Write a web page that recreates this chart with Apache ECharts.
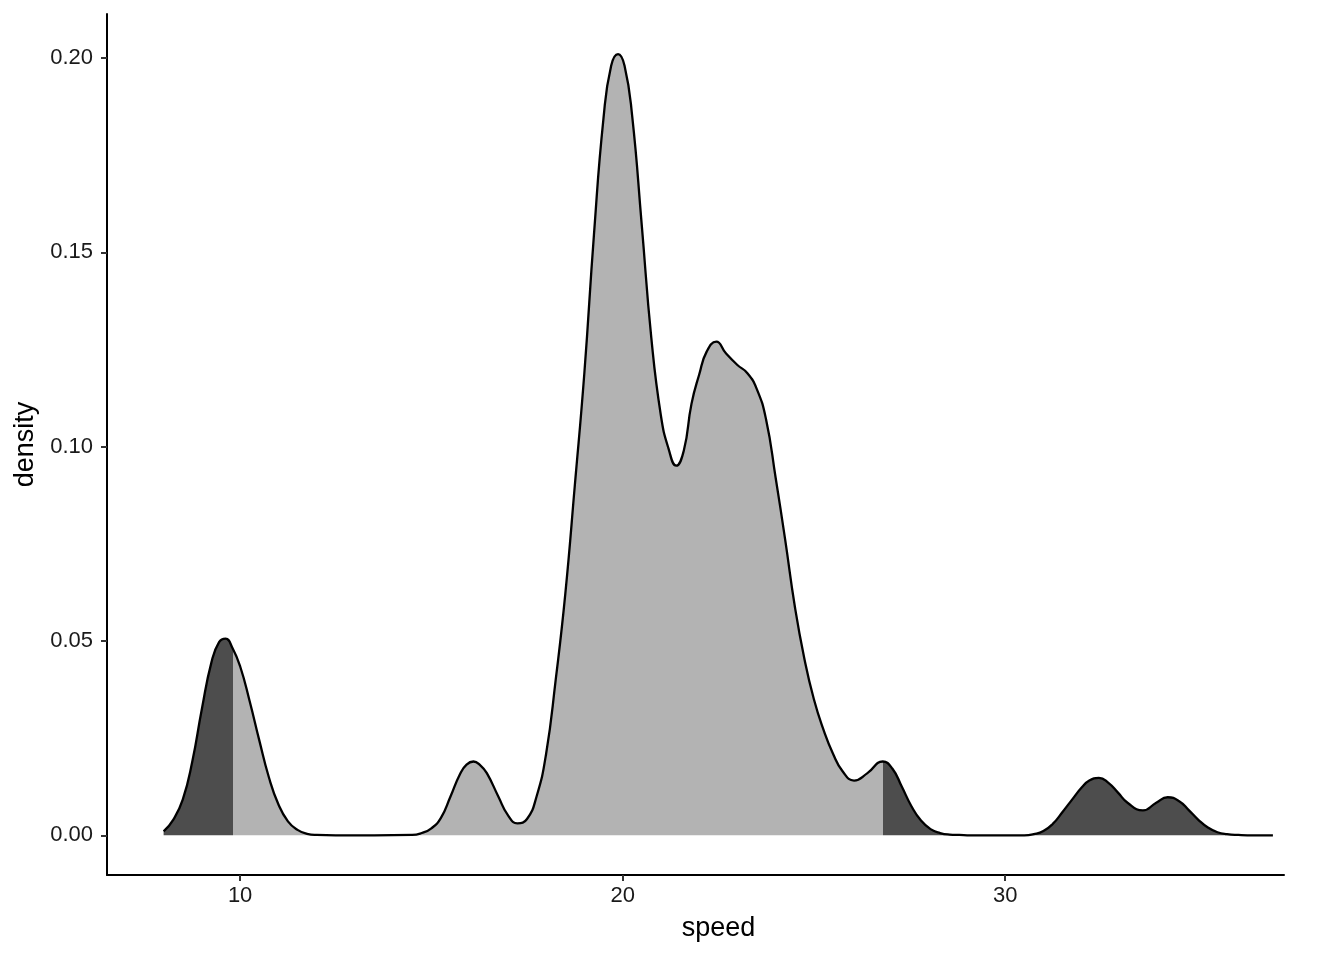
<!DOCTYPE html>
<html>
<head>
<meta charset="utf-8">
<title>speed density</title>
<script src="https://cdn.jsdelivr.net/npm/echarts@6/dist/echarts.min.js"></script>
<style>
  html, body { margin: 0; padding: 0; background: #fff; }
  #chart { width: 1344px; height: 960px; }
</style>
</head>
<body>
<div id="chart"></div>
<script>
// valores
const speed = [
  8.0, 8.25, 8.5, 8.75, 9.0, 9.25, 9.45, 9.62, 9.8, 10.0, 10.25, 10.5, 10.75, 11.0, 11.25, 11.5, 11.75, 12.0, 12.5,
  14.5, 14.75, 15.0, 15.25, 15.5, 15.75, 15.92, 16.1, 16.28, 16.45, 16.75, 17.0, 17.25, 17.5, 17.75,
  18.0, 18.25, 18.5, 18.75, 19.0, 19.25, 19.5, 19.7, 19.88, 20.05, 20.25, 20.5, 20.75, 21.0, 21.2, 21.4, 21.6, 21.8,
  22.0, 22.2, 22.45, 22.7, 23.0, 23.25, 23.5, 23.75, 24.0, 24.25, 24.5, 24.75, 25.0, 25.25, 25.5, 25.75,
  26.05, 26.4, 26.8, 27.05, 27.3, 27.55, 27.8, 28.05, 28.3, 28.55, 28.8, 29.1,
  30.5, 30.75, 31.0, 31.25, 31.5, 31.75, 32.0, 32.2, 32.45, 32.7, 32.95, 33.2, 33.6,
  33.95, 34.25, 34.55, 34.8, 35.05, 35.3, 35.55, 35.8, 36.1, 36.5, 37.0
];
const density = [
  0.0010, 0.0040, 0.0092, 0.0190, 0.0325, 0.0445, 0.0497, 0.0506, 0.0482, 0.0435, 0.0345, 0.0245, 0.0150, 0.0080, 0.0036, 0.0014, 0.0004, 0.0001, 0.0,
  0.0001, 0.0006, 0.0018, 0.0045, 0.0100, 0.0158, 0.0182, 0.0190, 0.0180, 0.0160, 0.0100, 0.0052, 0.0031, 0.0042, 0.0100,
  0.0210, 0.0400, 0.0620, 0.0900, 0.1190, 0.1545, 0.1845, 0.1980, 0.2010, 0.1980, 0.1850, 0.1570, 0.1280, 0.1080, 0.0995, 0.0951, 0.0990, 0.1110,
  0.1185, 0.1245, 0.1270, 0.1240, 0.1210, 0.1190, 0.1150, 0.1070, 0.0920, 0.0760, 0.0590, 0.0455, 0.0350, 0.0272, 0.0210, 0.0165,
  0.0141, 0.0160, 0.0190, 0.0172, 0.0125, 0.0075, 0.0038, 0.0016, 0.0006, 0.0002, 0.0001, 0.0,
  0.0, 0.0003, 0.0011, 0.0030, 0.0060, 0.0092, 0.0123, 0.0141, 0.0148, 0.0135, 0.0110, 0.0084, 0.0064,
  0.0084, 0.0098, 0.0088, 0.0065, 0.0040, 0.0020, 0.0008, 0.0003, 0.0001, 0.0, 0.0
];
const lowerCut = 9.82;
const upperCut = 26.81;
const xTicks = [10, 20, 30];
const yTicks = [0, 0.05, 0.1, 0.15, 0.2];

const FONT = "Liberation Sans, Arial, sans-serif";
const DARK = "#4d4d4d";
const LIGHT = "#b3b3b3";

const points = speed.map((s, i) => [s, density[i]]);

const chart = echarts.init(document.getElementById("chart"));

chart.setOption({
  animation: false,
  grid: { left: 107, right: 60, top: 14, bottom: 85 },
  visualMap: {
    show: false,
    type: "piecewise",
    seriesIndex: 0,
    dimension: 0,
    pieces: [
      { lt: lowerCut, color: DARK },
      { gte: lowerCut, lte: upperCut, color: LIGHT },
      { gt: upperCut, color: DARK },
    ],
  },
  xAxis: {
    type: "value",
    min: 6.52,
    max: 37.29,
    name: "speed",
    nameLocation: "middle",
    nameGap: 40,
    nameTextStyle: { fontFamily: FONT, fontSize: 27, color: "#000", padding: [0, 0, 0, 46] },
    axisLine: { show: true, onZero: false, lineStyle: { color: "#000", width: 2 } },
    axisTick: { show: true, length: 6, customValues: xTicks, lineStyle: { color: "#333", width: 2 } },
    axisLabel: { customValues: xTicks, fontFamily: FONT, fontSize: 22, color: "#1a1a1a", margin: 10 },
    splitLine: { show: false },
  },
  yAxis: {
    type: "value",
    min: -0.0102,
    max: 0.2113,
    name: "density",
    nameLocation: "middle",
    nameGap: 63,
    nameTextStyle: { fontFamily: FONT, fontSize: 27, color: "#000" },
    axisLine: { show: true, onZero: false, lineStyle: { color: "#000", width: 2 } },
    axisTick: { show: true, length: 6, customValues: yTicks, lineStyle: { color: "#333", width: 2 } },
    axisLabel: {
      customValues: yTicks,
      formatter: (v) => v.toFixed(2),
      fontFamily: FONT,
      fontSize: 22,
      color: "#1a1a1a",
      margin: 14,
    },
    splitLine: { show: false },
  },
  series: [
    {
      // relleno: oscuro en las colas, gris claro en el centro
      type: "line",
      data: points,
      smooth: 0.5,
      showSymbol: false,
      silent: true,
      lineStyle: { width: 0 },
      areaStyle: { opacity: 1, origin: "auto" },
      z: 2,
    },
    {
      type: "line",
      data: points,
      smooth: 0.5,
      showSymbol: false,
      silent: true,
      lineStyle: { color: "#000", width: 2.3 },
      z: 3,
    },
  ],
});
</script>
</body>
</html>
